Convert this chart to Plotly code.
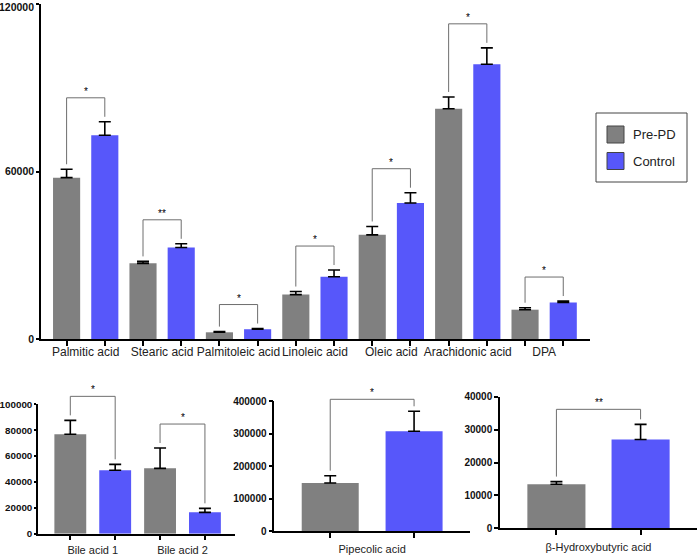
import plotly.graph_objects as go

W, H = 698, 556
GRAY = "#808080"
BLUE = "#5757FA"
FONT = "Liberation Sans, Arial, sans-serif"

# ---------------- data ----------------
fa_names = ["Palmitic acid", "Stearic acid", "Palmitoleic acid", "Linoleic acid",
            "Oleic acid", "Arachidonic acid", "DPA"]
fa_prepd = [57800, 27100, 2400, 15900, 37300, 82500, 10500]
fa_prepd_err = [3000, 700, 250, 1100, 3000, 4200, 700]
fa_control = [73000, 32800, 3500, 22300, 48700, 98400, 13100]
fa_control_err = [4800, 1300, 250, 2400, 3700, 5900, 500]
fa_sig = ["*", "**", "*", "*", "*", "*", "*"]
fa_ticks = [0, 60000, 120000]

bile_names = ["Bile acid 1", "Bile acid 2"]
bile_prepd = [76800, 50500]
bile_prepd_err = [10800, 15700]
bile_control = [49000, 16500]
bile_control_err = [4600, 3100]
bile_sig = ["*", "*"]
bile_ticks = [0, 20000, 40000, 60000, 80000, 100000]

pip_names = ["Pipecolic acid"]
pip_prepd = [147700]
pip_prepd_err = [22500]
pip_control = [306800]
pip_control_err = [61500]
pip_sig = ["*"]
pip_ticks = [0, 100000, 200000, 300000, 400000]

bhb_names = ["β-Hydroxybutyric acid"]
bhb_prepd = [13400]
bhb_prepd_err = [800]
bhb_control = [27000]
bhb_control_err = [4600]
bhb_sig = ["**"]
bhb_ticks = [0, 10000, 20000, 30000, 40000]

series_names = ["Pre-PD", "Control"]

# ---------------- panels (layout) ----------------
panels = [
    dict(ax="", names=fa_names, a=fa_prepd, ae=fa_prepd_err, b=fa_control, be=fa_control_err,
         sig=fa_sig, xpx=(41, 590), ypx=(4, 339), yr=(0, 120000), tickvals=fa_ticks,
         xr=(-0.67, 13.7), bw=0.71, tfs=10.5, lfs=12, boff=24, standoff=1, ytl=3, toplabel_ann=True),
    dict(ax="2", names=bile_names, a=bile_prepd, ae=bile_prepd_err, b=bile_control, be=bile_control_err,
         sig=bile_sig, xpx=(38, 235), ypx=(404.3, 533.7), yr=(0, 100000), tickvals=bile_ticks,
         xr=(-0.72, 3.67), bw=0.71, tfs=9.8, lfs=11, boff=24, standoff=5, ytl=2, toplabel_ann=False),
    dict(ax="3", names=pip_names, a=pip_prepd, ae=pip_prepd_err, b=pip_control, be=pip_control_err,
         sig=pip_sig, xpx=(274.3, 470), ypx=(401, 531), yr=(0, 400000), tickvals=pip_ticks,
         xr=(-0.667, 1.667), bw=0.68, tfs=10, lfs=11, boff=12, standoff=7, ytl=4, toplabel_ann=False),
    dict(ax="4", names=bhb_names, a=bhb_prepd, ae=bhb_prepd_err, b=bhb_control, be=bhb_control_err,
         sig=bhb_sig, xpx=(500, 697), ypx=(396.7, 528.3), yr=(0, 40000), tickvals=bhb_ticks,
         xr=(-0.67, 1.67), bw=0.69, tfs=10, lfs=11, boff=15, standoff=8, ytl=4, toplabel_ann=False),
]

fig = go.Figure()
shapes = []
annotations = []
layout_axes = {}


def px_x(v):
    return v / W


def px_y(v):
    return 1 - v / H


for p in panels:
    xa, ya = "x" + p["ax"], "y" + p["ax"]
    n = len(p["names"])
    xg = [2 * k for k in range(n)]
    xb = [2 * k + 1 for k in range(n)]
    mids = [2 * k + 0.5 for k in range(n)]
    err_style = dict(type="data", symmetric=False, color="black", thickness=1.6, width=6)
    fig.add_trace(go.Bar(x=xg, y=p["a"], width=p["bw"], marker=dict(color=GRAY, line=dict(width=0)),
                         error_y=dict(array=p["ae"], arrayminus=[0] * n, **err_style),
                         xaxis=xa, yaxis=ya, showlegend=False, name=series_names[0]))
    fig.add_trace(go.Bar(x=xb, y=p["b"], width=p["bw"], marker=dict(color=BLUE, line=dict(width=0)),
                         error_y=dict(array=p["be"], arrayminus=[0] * n, **err_style),
                         xaxis=xa, yaxis=ya, showlegend=False, name=series_names[1]))

    xdom = [p["xpx"][0] / W, p["xpx"][1] / W]
    ydom = [1 - p["ypx"][1] / H, 1 - p["ypx"][0] / H]
    key = p["ax"]
    ytext = [str(v) for v in p["tickvals"]]
    tick_font = dict(family=FONT, size=p["tfs"], color="#111", weight="bold")
    if p["toplabel_ann"]:
        # top tick label placed slightly lower so it stays inside the picture
        annotations.append(dict(x=px_x(p["xpx"][0] - 5), y=px_y(p["ypx"][0] + 3), xref="paper",
                                yref="paper", text=ytext[-1], showarrow=False, xanchor="right",
                                yanchor="middle", font=tick_font))
        ytext[-1] = ""
    layout_axes["xaxis" + key] = dict(
        domain=xdom, range=list(p["xr"]), anchor=ya, showline=True, linecolor="black", linewidth=1.5,
        tickvals=mids, ticktext=p["names"], ticks="", ticklabelstandoff=p["standoff"], tickangle=0,
        tickfont=dict(family=FONT, size=p["lfs"], color="#222"), automargin=False,
        ticklabeloverflow="allow",
        minor=dict(tickvals=xg + xb, ticks="outside", ticklen=5, tickwidth=1.5, tickcolor="black"),
        showgrid=False, zeroline=False, fixedrange=True)
    layout_axes["yaxis" + key] = dict(
        domain=ydom, range=list(p["yr"]), anchor=xa, showline=True, linecolor="black", linewidth=1.5,
        tickvals=p["tickvals"], ticktext=ytext, ticks="outside", ticklen=p["ytl"], tickwidth=1.5,
        tickcolor="black", tickfont=tick_font,
        automargin=False, ticklabeloverflow="allow",
        showgrid=False, zeroline=False, fixedrange=True)

    # significance brackets (data -> paper conversion)
    def to_paper(v, p=p, ydom=ydom):
        return ydom[0] + (v - p["yr"][0]) / (p["yr"][1] - p["yr"][0]) * (ydom[1] - ydom[0])

    gap = 5 / H
    for k in range(n):
        ta = to_paper(p["a"][k] + p["ae"][k])
        tb = to_paper(p["b"][k] + p["be"][k])
        top = max(ta, tb) + p["boff"] / H
        shapes.append(dict(type="path", xref=xa, yref="paper",
                           path=f"M{xg[k]},{ta + gap} L{xg[k]},{top} L{xb[k]},{top} L{xb[k]},{tb + gap}",
                           line=dict(color="#6e6e6e", width=1)))
        annotations.append(dict(x=mids[k], y=top, xref=xa, yref="paper", text=p["sig"][k],
                                showarrow=False, yanchor="bottom", xanchor="center", yshift=-1,
                                font=dict(family=FONT, size=10, color="black")))

# legend (drawn in paper coordinates)
shapes.append(dict(type="rect", xref="paper", yref="paper", x0=px_x(596), x1=px_x(687),
                   y0=px_y(182), y1=px_y(113), line=dict(color="#444", width=1), fillcolor="white"))
for i, (col, yc) in enumerate([(GRAY, 134.5), (BLUE, 161)]):
    shapes.append(dict(type="rect", xref="paper", yref="paper", x0=px_x(607), x1=px_x(624),
                       y0=px_y(yc + 8.5), y1=px_y(yc - 8.5), line=dict(color="#444", width=1),
                       fillcolor=col))
    annotations.append(dict(x=px_x(631), y=px_y(yc), xref="paper", yref="paper", text=series_names[i],
                            showarrow=False, xanchor="left", yanchor="middle",
                            font=dict(family=FONT, size=13, color="#222")))

fig.update_layout(
    width=W, height=H, margin=dict(l=0, r=0, t=0, b=0, autoexpand=False),
    paper_bgcolor="white", plot_bgcolor="white",
    font=dict(family=FONT, color="#222"),
    barmode="overlay", showlegend=False,
    shapes=shapes, annotations=annotations,
    **layout_axes,
)

fig.write_html("out.html", config={"displayModeBar": False},
               post_script="document.body.style.margin='0';document.body.style.overflow='hidden';")
